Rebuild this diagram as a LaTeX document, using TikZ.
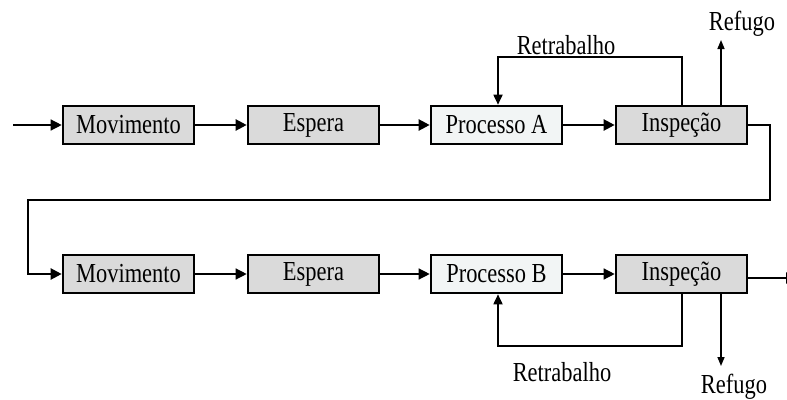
\documentclass[tikz,border=0pt]{standalone}
\usepackage{fontspec}
\usepackage{graphicx}
\setmainfont{Liberation Serif}
\usetikzlibrary{arrows.meta,calc}
\definecolor{boxgray}{HTML}{DADADA}
\definecolor{boxlight}{HTML}{F2F5F5}
\newcommand\tall[1]{\raisebox{-2.5pt}{\scalebox{1.02}[1.25]{#1}}}
\tikzset{
  stage/.style={draw=black, line width=2.6pt, minimum width=131pt, minimum height=38pt,
    inner sep=0pt, font=\fontsize{22}{22}\selectfont, fill=boxgray},
  procbox/.style={stage, fill=boxlight},
  lbl/.style={inner sep=0pt, font=\fontsize{22}{22}\selectfont},
  flow/.style={line width=2.2pt, -{Triangle[length=11pt,width=11pt]}},
  thinflow/.style={line width=1.3pt, -{Triangle[length=11pt,width=11pt]}},
  loopline/.style={line width=1.7pt, -{Triangle[length=10pt,width=9pt]}},
  scrap/.style={line width=1.5pt, -{Triangle[length=9pt,width=7pt]}},
}
\begin{document}
\begin{tikzpicture}[x=1pt,y=-1pt]
\useasboundingbox (0,0) rectangle (787,399);

% first line
\node[stage]   (m1) at (128.5,125) {\tall{Movimento}};
\node[stage]   (e1) at (313.5,125) {\tall{Espera}};
\node[procbox] (p1) at (496.5,125) {\tall{Processo A}};
\node[stage]   (i1) at (681.5,125) {\tall{Inspeção}};

% second line
\node[stage]   (m2) at (128.5,274) {\tall{Movimento}};
\node[stage]   (e2) at (313.5,274) {\tall{Espera}};
\node[procbox] (p2) at (496.5,274) {\tall{Processo B}};
\node[stage]   (i2) at (681.5,274) {\tall{Inspeção}};

% labels
\node[lbl] (rt1) at (566,45)  {\tall{Retrabalho}};
\node[lbl] (rf1) at (742,24)  {\tall{Refugo}};
\node[lbl] (rt2) at (562,372) {\tall{Retrabalho}};
\node[lbl] (rf2) at (734,387) {\tall{Refugo}};

\coordinate (in)   at (13,125);
\coordinate (out)  at (797,278);
\coordinate (rf1e) at (721,40);
\coordinate (rf2e) at (721,366);

% main flow
\draw[thinflow] (in) -- (m1.west);
\draw[flow] (m1) -- (e1);
\draw[flow] (e1) -- (p1);
\draw[flow] (p1) -- (i1);
\draw[flow] (i1.east) -- (770,125) -- (770,200) -- (28,200) |- (m2.west);
\draw[thinflow] (m2) -- (e2);
\draw[thinflow] (e2) -- (p2);
\draw[thinflow] (p2) -- (i2);
\draw[flow] (i2.east |- out) -- (out);

% rework loops
\draw[loopline] ([xshift=0.5pt]i1.north) -- ++(0,-48) -| ([xshift=1.5pt]p1.north);
\draw[loopline] ([xshift=0.5pt]i2.south) -- ++(0,52) -| ([xshift=1.5pt]p2.south);

% scrap outputs
\draw[scrap] ([xshift=39.5pt]i1.north) -- (rf1e);
\draw[scrap] ([xshift=39.5pt]i2.south) -- (rf2e);
\end{tikzpicture}
\end{document}
